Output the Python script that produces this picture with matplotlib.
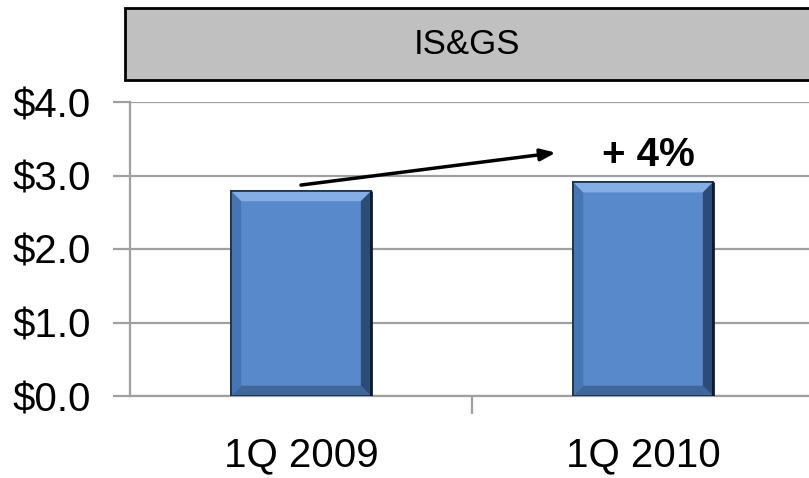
import matplotlib
matplotlib.use("Agg")
import matplotlib.pyplot as plt
from matplotlib.patches import Rectangle, Polygon

plt.rcParams['font.family'] = ['Liberation Sans', 'DejaVu Sans']

quarters = ["1Q 2009", "1Q 2010"]
revenue = [2.79, 2.91]          # $ billions
yticks = [0.0, 1.0, 2.0, 3.0, 4.0]
segment = "IS&GS"

growth = round((revenue[1] / revenue[0] - 1) * 100)

fig = plt.figure(figsize=(8.09, 4.78), dpi=100)
ax = fig.add_axes([130 / 809, 82 / 478, 684 / 809, 294 / 478])

x = list(range(len(quarters)))
width = 0.41
face = "#5789CB"
edge = "#182E4A"
ax.bar(x, revenue, width=width, color=face, edgecolor=edge, linewidth=1.2, zorder=3)

# bevel facets on each bar
bx, by = 0.03, 0.14
for xi, v in zip(x, revenue):
    l, r = xi - width / 2, xi + width / 2
    facets = [
        ([(l, v), (r, v), (r - bx, v - by), (l + bx, v - by)], "#84AEE4"),
        ([(l, 0), (r, 0), (r - bx, by), (l + bx, by)], "#3F6799"),
        ([(l, 0), (l, v), (l + bx, v - by), (l + bx, by)], "#4676B2"),
        ([(r, 0), (r, v), (r - bx, v - by), (r - bx, by)], "#2C4C77"),
    ]
    for pts, c in facets:
        ax.add_patch(Polygon(pts, closed=True, facecolor=c, edgecolor="none", zorder=4))
    ax.add_patch(Rectangle((l, 0), width, v, facecolor="none", edgecolor=edge,
                           linewidth=1.2, zorder=5))
    # darker outer line down the right side
    ax.plot([r, r], [0, v], color="#0E1B2C", linewidth=2, zorder=5,
            solid_capstyle="butt")

ax.set_xlim(-0.5, 1.5)
ax.set_ylim(0, 4)
ax.set_yticks(yticks)
ax.set_yticklabels(["${:.1f}".format(t) for t in yticks])
ax.set_xticks([0.5])
ax.set_xticklabels([])
ax.set_xticks(x, minor=True)
ax.set_xticklabels(quarters, minor=True)

grey = "#A0A0A0"
ax.grid(axis="y", color=grey, linewidth=1.6, zorder=0)
for s in ["top", "right"]:
    ax.spines[s].set_visible(False)
for s in ["left", "bottom"]:
    ax.spines[s].set_color(grey)
    ax.spines[s].set_linewidth(1.6)
ax.tick_params(axis="y", which="major", length=12, width=1.6, color=grey,
               labelsize=29, pad=16)
ax.tick_params(axis="x", which="major", length=13, width=1.6, color=grey)
ax.tick_params(axis="x", which="minor", length=0, labelsize=29, pad=29)

# growth arrow and label
ax.annotate("", xy=(0.745, revenue[1] + 0.40), xytext=(0.0, revenue[0] + 0.08),
            arrowprops=dict(arrowstyle="-|>,head_length=0.9,head_width=0.35",
                            color="black", lw=2.5, shrinkA=0, shrinkB=0),
            zorder=6)
ax.text(1.015, revenue[1] + 0.37, "+ {}%".format(growth), ha="center", va="center",
        fontsize=29, fontweight="bold", zorder=6)

# segment header box
fig.patches.append(Rectangle((125 / 809, 398 / 478), 690 / 809, 72 / 478,
                             transform=fig.transFigure, facecolor="#C0C0C0",
                             edgecolor="black", linewidth=2, zorder=1))
fig.text(467 / 809, 434 / 478, segment, ha="center", va="center", fontsize=25)

fig.savefig("out.png", dpi=100)
